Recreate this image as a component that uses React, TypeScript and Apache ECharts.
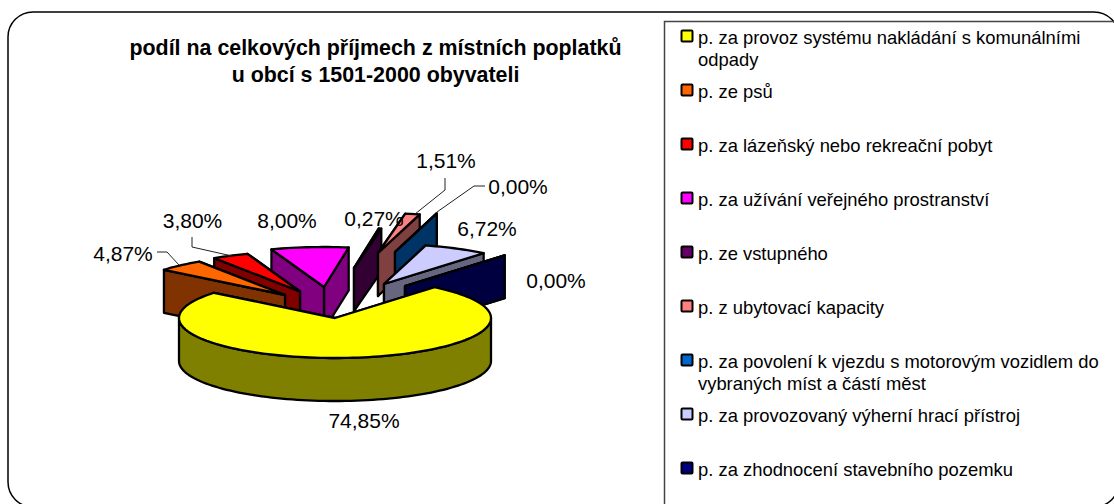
import React, { useEffect, useRef } from "react";
import * as echarts from "echarts";

const FONT = '"Liberation Sans", Arial, sans-serif';

const legendLabels = [
  "p. za provoz systému nakládání s komunálními\nodpady",
  "p. ze psů",
  "p. za lázeňský nebo rekreační pobyt",
  "p. za užívání veřejného prostranství",
  "p. ze vstupného",
  "p. z ubytovací kapacity",
  "p. za povolení k vjezdu s motorovým vozidlem do\nvybraných míst a částí měst",
  "p. za provozovaný výherní hrací přístroj",
  "p. za zhodnocení stavebního pozemku",
];
const sliceValues = [74.85, 4.87, 3.8, 8.0, 0.27, 1.51, 0.0, 6.72, 0.0];
const topColors = ["#FFFF00", "#FF6600", "#FF0000", "#FF00FF", "#660066", "#FF8080", "#0066CC", "#CCCCFF", "#000080"];
const sideColors = ["#808000", "#803300", "#800000", "#800080", "#330033", "#804040", "#003366", "#666680", "#000040"];

// Layout of the exploded pie (styling, not data)
const explodeX = [0, -50, -35, -11, 19, 43, 60, 49, 70];
const explodeY = [0, -23, -26.5, -31, -50, -65, -66, -34, -32];
const paintOrder = [9, 3, 2, 1, 4, 5, 6, 7, 8];
const labelX = [364, 123, 192.5, 287, 374, 446, 518, 487, 556];
const labelY = [420, 253, 220, 220, 218, 160, 186, 228, 280];
const leaderLines: number[][][] = [
  [],
  [[157, 252], [167, 252], [179, 265]],
  [[192, 237], [192, 247], [232, 256]],
  [],
  [],
  [[445, 178], [445, 190], [415, 214]],
  [[485, 186], [474, 186], [437, 212]],
  [],
  [],
];

const PIE = { cx: 335, cy: 318, rx: 156, ry: 40, depth: 43, startDeg: 39.7 };
const total = sliceValues.reduce((a, b) => a + b, 0);
const toRad = (d: number) => (d * Math.PI) / 180;

function renderSlice(params: any, api: any) {
  const i = params.dataIndex;
  const value = api.value(1);
  const before = sliceValues.slice(0, i).reduce((a, b) => a + b, 0);
  const t0 = PIE.startDeg + (before / total) * 360;
  const t1 = t0 + (value / total) * 360;
  const ax = PIE.cx + explodeX[i];
  const ay = PIE.cy + explodeY[i];
  const pt = (t: number, dz = 0) => [
    ax + PIE.rx * Math.sin(toRad(t)),
    ay - PIE.ry * Math.cos(toRad(t)) + dz,
  ];
  const arc = (a: number, b: number, dz = 0) => {
    const n = Math.max(1, Math.ceil((b - a) / 2));
    const out: number[][] = [];
    for (let k = 0; k <= n; k++) out.push(pt(a + ((b - a) * k) / n, dz));
    return out;
  };
  const z = paintOrder[i] * 10;
  const stroke = { stroke: "#000", lineWidth: 2.3, lineJoin: "round" };
  const wall = (t: number, z2: number) => ({
    type: "polygon",
    z2,
    shape: { points: [[ax, ay], pt(t), pt(t, PIE.depth), [ax, ay + PIE.depth]] },
    style: { fill: sideColors[i], ...stroke },
  });
  const leftSide = Math.sin(toRad((t0 + t1) / 2)) < 0;
  const children: any[] = [
    wall(leftSide ? t1 : t0, z),
    wall(leftSide ? t0 : t1, z + 1),
  ];
  const a = Math.max(t0, 90);
  const b = Math.min(t1, 270);
  if (b > a) {
    children.push({
      type: "polygon",
      z2: z + 2,
      shape: { points: [...arc(a, b), ...arc(a, b, PIE.depth).reverse()] },
      style: { fill: sideColors[i], ...stroke },
    });
  }
  children.push({
    type: "polygon",
    z2: z + 3,
    shape: { points: [[ax, ay], ...arc(t0, t1)] },
    style: { fill: topColors[i], ...stroke },
  });
  if (leaderLines[i].length) {
    children.push({
      type: "polyline",
      z2: 200,
      shape: { points: leaderLines[i] },
      style: { fill: "none", stroke: "#222", lineWidth: 1 },
    });
  }
  children.push({
    type: "text",
    z2: 210,
    style: {
      text: value.toFixed(2).replace(".", ",") + "%",
      x: labelX[i],
      y: labelY[i],
      fill: "#000",
      fontSize: 21,
      fontFamily: FONT,
      align: "center",
      verticalAlign: "middle",
    },
  });
  return { type: "group", children };
}

export default function App() {
  const ref = useRef<HTMLDivElement>(null);
  useEffect(() => {
    document.body.style.margin = "0";
    const chart = echarts.init(ref.current!, null, { renderer: "svg" });
    const legendGraphics: any[] = [];
    legendLabels.forEach((text, i) => {
      const rowY = 37.5 + 54 * i;
      legendGraphics.push({
        type: "rect",
        shape: { x: 681.5, y: rowY - 7, width: 11, height: 11, r: 1 },
        style: { fill: topColors[i], stroke: "#000", lineWidth: 2 },
      });
      legendGraphics.push({
        type: "text",
        style: {
          text,
          x: 698,
          y: rowY - 11,
          fill: "#000",
          fontSize: 18.4,
          lineHeight: 22,
          fontFamily: FONT,
          align: "left",
          verticalAlign: "top",
        },
      });
    });
    chart.setOption({
      animation: false,
      backgroundColor: "#fff",
      title: {
        text: "podíl na celkových příjmech z místních poplatků\nu obcí s 1501-2000 obyvateli",
        left: 370.5,
        top: 29.5,
        textAlign: "center",
        textStyle: { fontFamily: FONT, fontSize: 21.4, fontWeight: "bold", color: "#000", lineHeight: 27 },
      },
      graphic: [
        {
          type: "rect",
          shape: { x: 8, y: 12, width: 1111, height: 495, r: 25 },
          style: { fill: "none", stroke: "#000", lineWidth: 1.5 },
        },
        {
          type: "rect",
          shape: { x: 664.5, y: 21.5, width: 480, height: 520 },
          style: { fill: "none", stroke: "#444", lineWidth: 1.5 },
        },
        ...legendGraphics,
      ],
      series: [
        {
          type: "custom",
          coordinateSystem: "none",
          silent: true,
          renderItem: renderSlice,
          data: sliceValues.map((v, i) => [i, v]),
        },
      ],
    });
    return () => chart.dispose();
  }, []);
  return <div ref={ref} style={{ width: 1114, height: 504 }} />;
}
